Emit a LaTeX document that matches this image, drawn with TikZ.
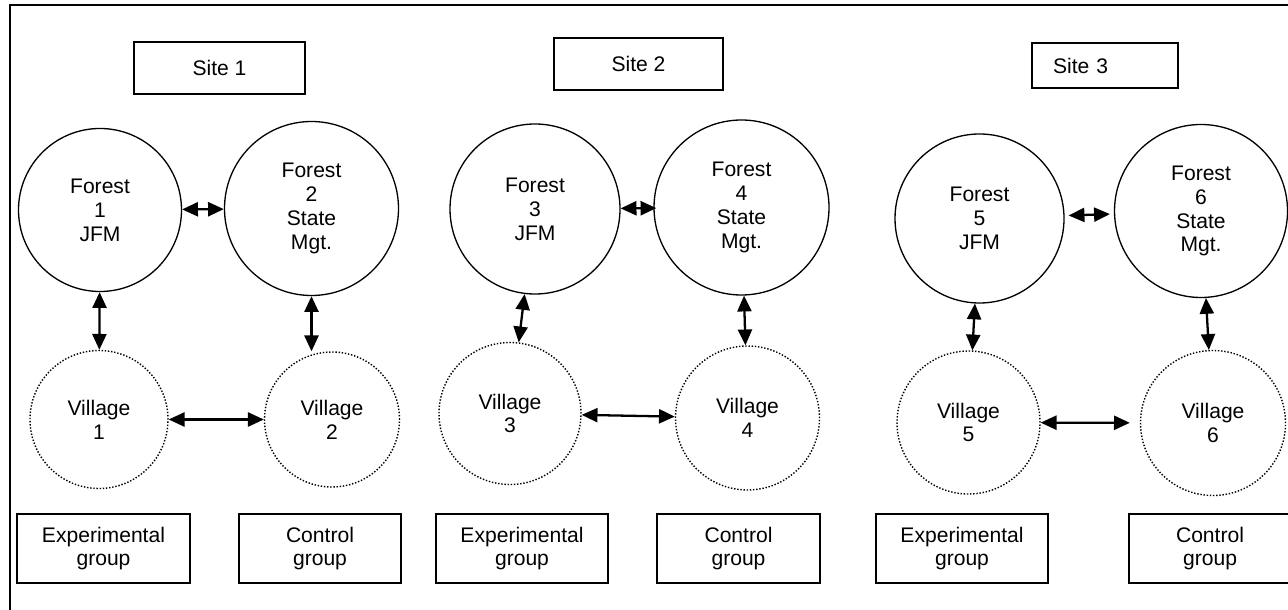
\documentclass[tikz,border=0pt]{standalone}
\usepackage{fontspec}
\setmainfont{Liberation Sans}
\usetikzlibrary{arrows.meta}

\begin{document}
\begin{tikzpicture}[
  font=\fontsize{12}{13.6}\selectfont,
  box/.style={draw, line width=0.9pt, minimum height=1.38cm, align=center, inner sep=0pt},
  forest/.style={draw, circle, line width=0.75pt, align=center, inner sep=0pt},
  village/.style={draw, circle, line width=0.8pt, densely dotted, align=center, inner sep=0pt},
  link/.style={line width=1.3pt, {Triangle[length=9pt,width=8pt]}-{Triangle[length=9pt,width=8pt]}}
]
\useasboundingbox (0,0) rectangle (25.76,12.18);
\draw [line width=1.4pt] (0.2,-0.1) -- (0.2,12.08) -- (25.9,12.08);
\node (s1) [box, minimum width=3.42cm, minimum height=1.04cm] at (4.39,10.82) {Site 1};
\node (s2) [box, minimum width=3.38cm, minimum height=1.04cm] at (12.77,10.90) {Site 2};
\node (s3) [box, minimum height=0.9cm, text width=2.08cm, inner xsep=0.42cm, align=left] at (22.10,10.87) {Site 3};
\node (f1) [forest, minimum size=3.26cm] at (2.00,7.98) {Forest\\1\\JFM};
\node (f2) [forest, minimum size=3.48cm] at (6.23,8.01) {Forest\\2\\State\\Mgt.};
\node (f3) [forest, minimum size=3.40cm] at (10.70,8.00) {Forest\\3\\JFM};
\node (f4) [forest, minimum size=3.50cm] at (14.83,8.03) {Forest\\4\\State\\Mgt.};
\node (f5) [forest, minimum size=3.38cm] at (19.59,7.81) {Forest\\5\\JFM};
\node (f6) [forest, minimum size=3.46cm] at (24.02,7.96) {Forest\\6\\State\\Mgt.};
\node (v1) [village, minimum size=2.76cm] at (1.98,3.79) {Village\\1};
\node (v2) [village, minimum size=2.70cm] at (6.64,3.79) {Village\\2};
\node (v3) [village, minimum size=2.84cm] at (10.20,3.91) {Village\\3};
\node (v4) [village, minimum size=2.88cm] at (14.95,3.82) {Village\\4};
\node (v5) [village, minimum size=2.86cm] at (19.37,3.73) {Village\\5};
\node (v6) [village, minimum size=2.90cm] at (24.26,3.72) {Village\\6};
\node (e1) [box, minimum width=3.46cm] at (2.07,1.21) {Experimental\\group};
\node (c1) [box, minimum width=3.24cm] at (6.40,1.21) {Control\\group};
\node (e2) [box, minimum width=3.44cm] at (10.44,1.21) {Experimental\\group};
\node (c2) [box, minimum width=3.26cm] at (14.77,1.21) {Control\\group};
\node (e3) [box, minimum width=3.44cm] at (19.24,1.21) {Experimental\\group};
\node (c3) [box, minimum width=3.24cm] at (24.20,1.21) {Control\\group};
\draw [link] (f1) -- (f2);
\draw [link, shorten >=-0.06cm] (f3) -- (f4);
\draw [link, shorten <=0.08cm, shorten >=0.08cm] (f5) -- (f6);
\draw [link] (f1) -- (v1);
\draw [link] (f2.south) -- (f2.south |- v2.north);
\draw [link] (f3) -- (v3);
\draw [link] (f4) -- (v4);
\draw [link] (f5) -- (v5);
\draw [link] (f6) -- (v6);
\draw [link] (v1) -- (v2);
\draw [link] (v3) -- (v4);
\draw [link, shorten >=0.2cm] (v5) -- (v6);
\end{tikzpicture}
\end{document}
